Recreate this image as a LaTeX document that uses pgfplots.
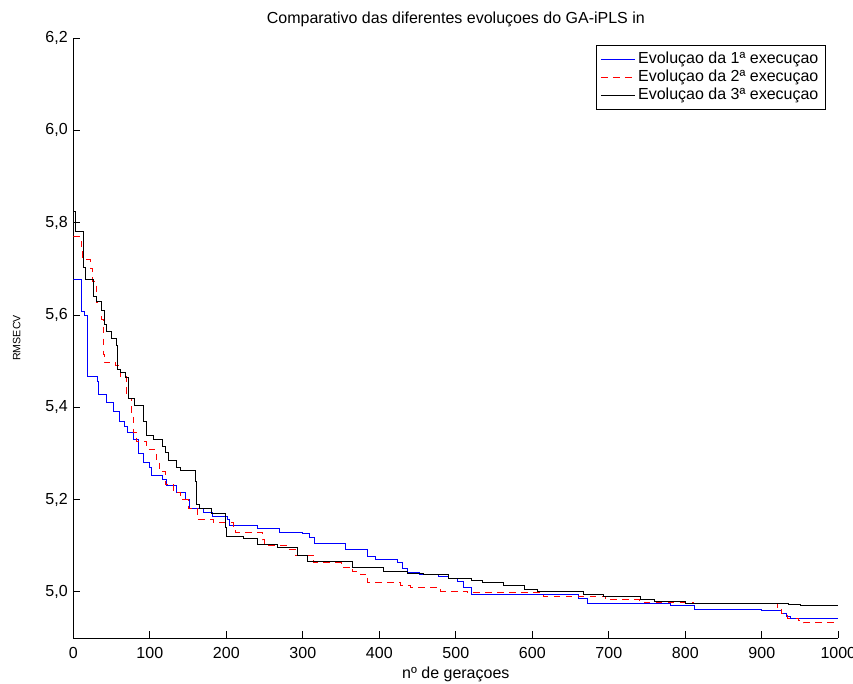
\documentclass[border=0pt]{standalone}
\usepackage{pgfplots}
\pgfplotsset{compat=1.18}
\usepackage{fontspec}
\setmainfont{Liberation Sans}
\begin{document}
\fontsize{12}{14}\selectfont
\begin{tikzpicture}
\useasboundingbox (-55pt,-34.5pt) rectangle (584.75pt,478.5pt);
\begin{axis}[
  scale only axis,
  width=573.75pt, height=450pt,
  at={(0,0)}, anchor=south west,
  xmin=0, xmax=1000, ymin=4.9, ymax=6.2,
  axis x line*=bottom, axis y line*=left,
  axis line style={-, line width=0.6pt},
  every outer x axis line/.append style={-},
  every outer y axis line/.append style={-},
  xtick={0,100,...,1000},
  ytick={5.0,5.2,5.4,5.6,5.8,6.0,6.2},
  tick align=inside,
  major tick length=5pt,
  tick style={line width=0.6pt, black},
  /pgf/number format/assume math mode=true,
  yticklabel style={/pgf/number format/fixed, /pgf/number format/fixed zerofill, /pgf/number format/precision=1, /pgf/number format/use comma},
  xticklabel style={yshift=-3pt, /pgf/number format/fixed, /pgf/number format/precision=0, /pgf/number format/1000 sep={}},
  ticklabel style={font=\fontsize{12}{14}\selectfont},
  title={Comparativo das diferentes evoluçoes do GA-iPLS in},
  title style={font=\fontsize{12}{14}\selectfont, at={(0.5,1)}, anchor=south, yshift=-2pt},
  xlabel={nº de geraçoes},
  xlabel style={font=\fontsize{12}{14}\selectfont, yshift=2pt},
  ylabel={RMSECV},
  ylabel style={font=\fontsize{8}{9}\selectfont, at={(axis description cs:-0.074,0.5)}, anchor=center},
  legend style={at={(rel axis cs:0.983,0.988)}, anchor=north east,
    font=\fontsize{12}{14}\selectfont, inner sep=3pt, row sep=-1pt, cells={anchor=west}},
]
\addlegendimage{legend image code/.code={\draw[draw=blue, line width=0.6pt] (0cm,0cm) -- (0.9cm,0cm);}}
\addlegendentry{Evoluçao da 1ª execuçao}
\addlegendimage{legend image code/.code={\draw[draw=red, line width=0.6pt, dash pattern=on 5pt off 4pt] (0cm,0cm) -- (0.9cm,0cm);}}
\addlegendentry{Evoluçao da 2ª execuçao}
\addlegendimage{legend image code/.code={\draw[draw=black, line width=0.6pt] (0cm,0cm) -- (0.9cm,0cm);}}
\addlegendentry{Evoluçao da 3ª execuçao}
\addplot[forget plot, const plot, blue, line width=0.6pt] coordinates {
(0,5.676)(11,5.607)(14,5.600)(18,5.467)(31,5.456)(33,5.428)(43,5.410)(52,5.390)(60,5.370)(67,5.359)(71,5.346)(78,5.330)(85,5.300)(92,5.280)(100,5.270)(102,5.252)(116,5.243)(122,5.230)(135,5.215)(146,5.200)(152,5.180)(170,5.173)(182,5.163)(201,5.157)(204,5.143)(240,5.138)(270,5.128)(300,5.126)(309,5.117)(315,5.104)(356,5.091)(385,5.076)(395,5.070)(423,5.063)(430,5.050)(437,5.043)(453,5.037)(477,5.033)(490,5.030)(502,5.022)(510,5.010)(520,4.995)(660,4.985)(672,4.974)(780,4.970)(812,4.963)(900,4.960)(925,4.954)(932,4.946)(937,4.943)(1000,4.943)
};
\addplot[forget plot, const plot, red, line width=0.6pt, dash pattern=on 5pt off 4pt] coordinates {
(0,5.770)(10,5.739)(12,5.720)(22,5.700)(25,5.672)(30,5.628)(37,5.590)(39,5.515)(40,5.498)(55,5.490)(61,5.467)(70,5.420)(76,5.380)(78,5.346)(82,5.326)(96,5.309)(108,5.287)(112,5.260)(120,5.233)(131,5.215)(140,5.200)(150,5.180)(162,5.157)(183,5.150)(209,5.135)(212,5.128)(247,5.113)(250,5.100)(280,5.093)(290,5.080)(314,5.063)(350,5.054)(365,5.045)(375,5.037)(385,5.020)(427,5.013)(440,5.009)(480,5.002)(515,4.998)(614,4.991)(695,4.983)(740,4.978)(810,4.976)(920,4.967)(925,4.954)(933,4.943)(948,4.939)(954,4.933)(1000,4.933)
};
\addplot[forget plot, const plot, black, line width=0.6pt] coordinates {
(0,5.824)(3,5.780)(13,5.704)(16,5.678)(26,5.641)(30,5.630)(37,5.609)(40,5.580)(43,5.565)(50,5.550)(56,5.533)(58,5.483)(62,5.475)(68,5.465)(72,5.420)(80,5.405)(91,5.370)(96,5.340)(105,5.330)(116,5.315)(120,5.302)(124,5.285)(135,5.270)(140,5.263)(160,5.239)(161,5.189)(165,5.180)(180,5.170)(199,5.140)(200,5.120)(222,5.115)(240,5.102)(267,5.096)(293,5.080)(306,5.065)(365,5.054)(405,5.045)(437,5.041)(458,5.037)(490,5.030)(520,5.025)(535,5.020)(562,5.013)(590,5.005)(607,5.000)(667,4.995)(693,4.990)(741,4.983)(760,4.980)(800,4.976)(935,4.972)(950,4.970)(1000,4.970)
};
\end{axis}
\end{tikzpicture}
\end{document}
